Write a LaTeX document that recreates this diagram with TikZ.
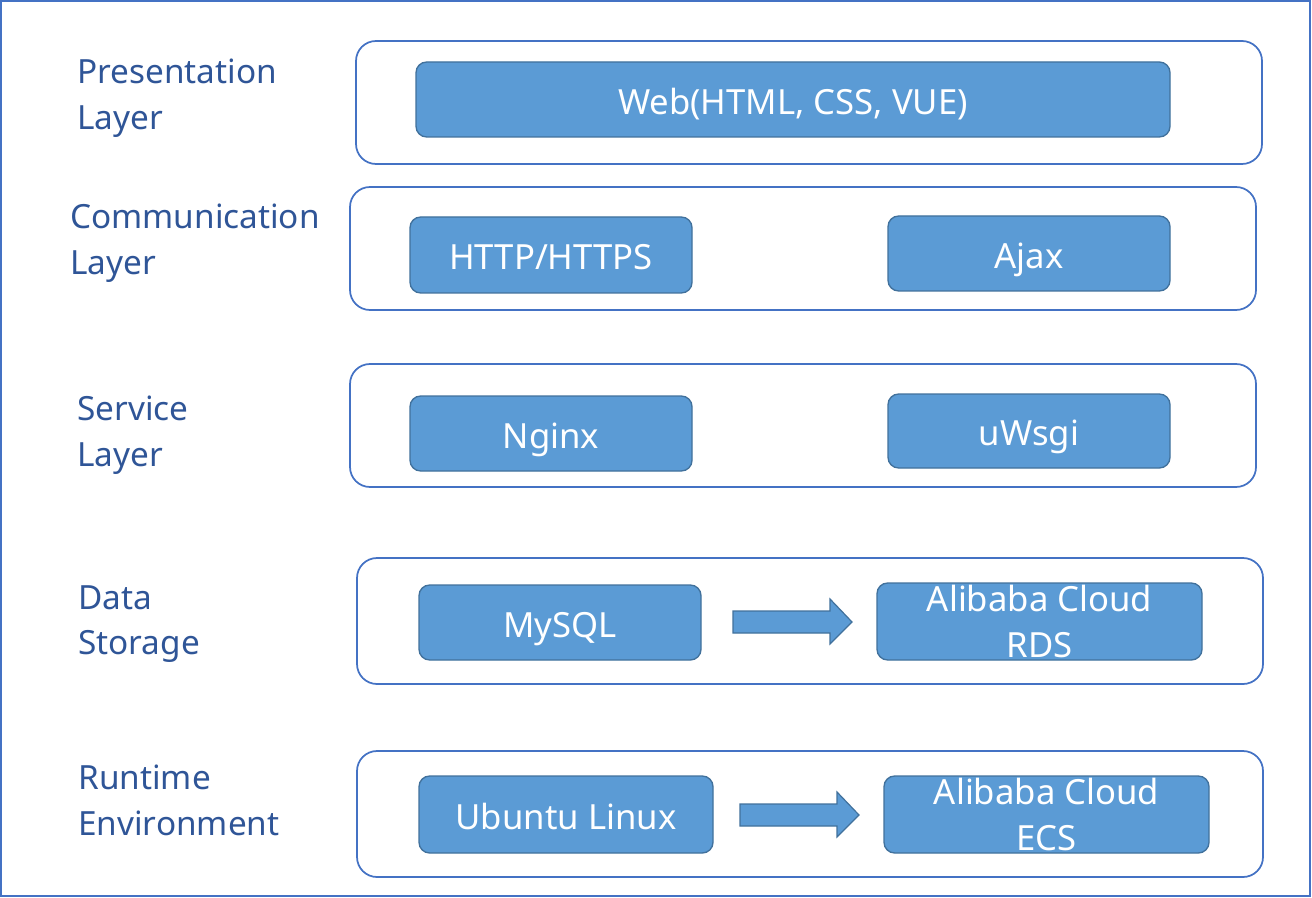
\documentclass[tikz,border=0pt]{standalone}
\usepackage{fontspec}
\setmainfont{Noto Sans}
\definecolor{frame}{HTML}{4472C4}
\definecolor{lbl}{HTML}{2F5597}
\definecolor{fillb}{HTML}{5B9BD5}
\definecolor{edgeb}{HTML}{41719C}
\begin{document}
\begin{tikzpicture}[x=0.75pt,y=-0.75pt,
  layerbox/.style 2 args={draw=frame,line width=1.3pt,fill=white,rounded corners=15pt,inner sep=0pt,
     minimum width={#1*0.75pt},minimum height={#2*0.75pt}},
  itembox/.style 2 args={draw=edgeb,line width=1pt,fill=fillb,rounded corners=8pt,inner sep=0pt,
     minimum width={#1*0.75pt},minimum height={#2*0.75pt},
     text=white,font=\fontsize{26}{34}\selectfont,align=center},
  oneline/.style={text height=22.4pt,text depth=0pt},
  lbltext/.style={text=lbl,font=\fontsize{25}{34}\selectfont,align=left,anchor=north west,inner sep=0pt},
  bigarrow/.style={draw=edgeb,line width=0.9pt,fill=fillb}]
\useasboundingbox (0,0) rectangle (1312,898);
\draw[frame,line width=2pt] (1,1) rectangle (1310,896);
% layers
\node[layerbox={906}{123}] (L1) at (809,102.5) {};
\node[layerbox={906}{123}] (L2) at (803,248.5) {};
\node[layerbox={906}{123}] (L3) at (803,425.5) {};
\node[layerbox={906}{126}] (L4) at (810,621) {};
\node[layerbox={906}{126}] (L5) at (810,814) {};
% labels
\node[lbltext] (t1) at (77,59) {Presentation\\Layer};
\node[lbltext] (t2) at (70,204) {Communication\\Layer};
\node[lbltext] (t3) at (77,396) {Service\\Layer};
\node[lbltext] (t4) at (78,585) {Data\\Storage};
\node[lbltext] (t5) at (78,765) {Runtime\\Environment};
% items
\node[itembox={754}{75},oneline] (web) at (793,99.5) {Web(HTML, CSS, VUE)};
\node[itembox={282}{76},oneline] (http) at (551,255) {HTTP/HTTPS};
\node[itembox={282}{75},oneline] (ajax) at (1029,253.5) {Ajax};
\node[itembox={282}{75},oneline] (nginx) at (551,433.5) {Nginx};
\node[itembox={282}{74},oneline] (uwsgi) at (1029,431) {uWsgi};
\node[itembox={282}{75},oneline] (mysql) at (560,622.5) {MySQL};
\node[itembox={325}{77}] (rds) at (1039.5,621.5) {Alibaba Cloud\\RDS};
\node[itembox={294}{77},oneline] (ubuntu) at (566,814.5) {Ubuntu Linux};
\node[itembox={325}{77}] (ecs) at (1046.5,814.5) {Alibaba Cloud\\ECS};
% arrows
\draw[bigarrow] (733,611) -- (830,611) -- (830,599) -- (852,622) -- (830,644) -- (830,633) -- (733,633) -- cycle;
\draw[bigarrow] (740,804) -- (837,804) -- (837,792) -- (859,815) -- (837,837) -- (837,826) -- (740,826) -- cycle;
\end{tikzpicture}
\end{document}
